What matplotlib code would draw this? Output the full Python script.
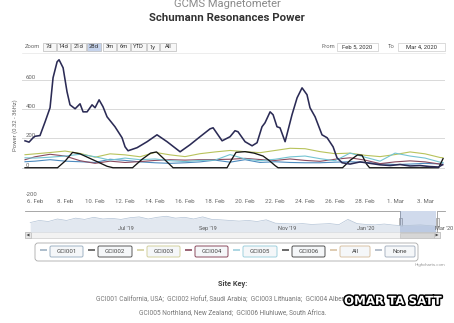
import numpy as np
import pandas as pd
import matplotlib
matplotlib.use("Agg")
import matplotlib.pyplot as plt
import matplotlib.dates as mdates
from matplotlib.patches import Rectangle, FancyBboxPatch, Polygon
import matplotlib.patheffects as pe

plt.rcParams["font.family"] = ["Roboto", "DejaVu Sans"]

# ---- data ----
start = pd.Timestamp("2020-02-05")

series_names = ["GCI001", "GCI002", "GCI003", "GCI004", "GCI005", "GCI006"]
series_colors = ["#4d8bbf", "#2b2b55", "#b8c35c", "#8a4a5e", "#74c4d2", "#151515"]

# GCI002 (the big one), days after Feb 5
gci002_days = [0.33, 0.6, 0.87, 1.0, 1.33, 1.67, 2.0, 2.2, 2.47, 2.6, 2.87, 3.13, 3.33, 3.67,
               4.0, 4.2, 4.47, 4.8, 5.0, 5.27, 5.53, 5.8, 6.33, 6.8, 7.0, 7.2, 7.8, 8.47,
               9.13, 9.8, 10.67, 11.33, 12.0, 12.67, 12.87, 13.47, 14.0, 14.33, 14.53, 15.0,
               15.47, 15.8, 16.13, 16.33, 16.67, 16.87, 17.13, 17.33, 17.67, 18.13, 18.47,
               18.8, 19.13, 19.33, 19.67, 20.13, 20.47, 20.87, 21.13, 21.47, 22.0, 22.67,
               23.33, 24.0, 24.67, 25.33, 26.0, 26.67, 27.33, 27.9, 28.15]
gci002_vals = [184, 175, 205, 215, 220, 314, 410, 615, 724, 738, 683, 520, 430, 403,
               437, 382, 382, 430, 410, 464, 417, 348, 280, 205, 143, 116, 137, 178,
               225, 178, 109, 157, 212, 266, 273, 184, 212, 253, 246, 178,
               150, 171, 280, 307, 382, 362, 280, 273, 178, 362, 478,
               546, 499, 410, 348, 225, 205, 143, 68, 34, 25, 40,
               30, 20, 15, 22, 12, 15, 8, 5, 20]

# the smaller stations, one reading per day
daily_days = [0.33, 1, 2, 3, 4, 5, 6, 7, 8, 9, 10, 11, 12, 13, 14, 15, 16, 17, 18, 19,
              20, 21, 22, 23, 24, 25, 26, 27, 28, 28.2]
gci001_vals = [41, 45, 55, 45, 41, 36, 58, 50, 40, 34, 30, 34, 40, 52, 38, 55, 36, 41, 36, 34,
               34, 38, 41, 36, 28, 22, 25, 30, 26, 25]
gci003_vals = [89, 95, 104, 114, 98, 72, 95, 88, 75, 105, 88, 76, 96, 108, 118, 110, 103, 118,
               133, 130, 110, 96, 100, 85, 76, 90, 108, 95, 70, 68]
gci004_vals = [55, 75, 92, 80, 48, 30, 45, 36, 42, 50, 55, 52, 55, 56, 58, 64, 56, 50, 60, 50,
               44, 58, 68, 52, 28, 40, 47, 40, 25, 20]
gci005_vals = [68, 66, 72, 80, 92, 75, 52, 66, 55, 60, 48, 42, 50, 52, 90, 60, 48, 58, 74, 80,
               62, 48, 100, 72, 45, 100, 80, 66, 38, 35]

# GCI006 sits at zero with humps
gci006_days = [0.33, 2.5, 3.0, 3.5, 4.0, 4.7, 5.3, 5.8, 6.2, 7.5, 8.1, 8.7, 9.1, 9.6, 10.2,
               13.8, 14.1, 14.4, 15.0, 15.6, 16.2, 16.6, 17.0, 17.2, 21.5, 22.0, 22.5, 22.8,
               23.1, 23.3, 27.9, 28.2]
gci006_vals = [0, 0, 45, 105, 95, 62, 34, 10, 0, 0, 55, 100, 108, 60, 0,
               0, 55, 105, 110, 100, 80, 50, 15, 0, 0, 50, 88, 85,
               25, 0, 0, 62]

y_ticks = [-200, 0, 200, 400, 600]
x_tick_dates = ["2020-02-06", "2020-02-08", "2020-02-10", "2020-02-12", "2020-02-14",
                "2020-02-16", "2020-02-18", "2020-02-20", "2020-02-22", "2020-02-24",
                "2020-02-26", "2020-02-28", "2020-03-01", "2020-03-03"]
x_tick_labels = ["6. Feb", "8. Feb", "10. Feb", "12. Feb", "14. Feb", "16. Feb", "18. Feb",
                 "20. Feb", "22. Feb", "24. Feb", "26. Feb", "28. Feb", "1. Mar", "3. Mar"]

# navigator overview (weekly, relative height)
nav_dates = ["2019-04-26", "2019-05-03", "2019-05-10", "2019-05-17", "2019-05-24", "2019-05-31",
             "2019-06-07", "2019-06-14", "2019-06-21", "2019-06-28", "2019-07-05", "2019-07-12",
             "2019-07-19", "2019-07-26", "2019-08-02", "2019-08-09", "2019-08-16", "2019-08-23",
             "2019-08-30", "2019-09-06", "2019-09-13", "2019-09-20", "2019-09-27", "2019-10-04",
             "2019-10-11", "2019-10-18", "2019-10-25", "2019-11-01", "2019-11-08", "2019-11-15",
             "2019-11-22", "2019-11-29", "2019-12-06", "2019-12-13", "2019-12-20", "2019-12-27",
             "2020-01-03", "2020-01-10", "2020-01-17", "2020-01-24", "2020-01-31", "2020-02-07",
             "2020-02-14", "2020-02-21", "2020-02-28", "2020-03-04"]
nav_vals = [0.45, 0.55, 0.5, 0.62, 0.55, 0.66, 0.6, 0.7, 0.62, 0.65, 0.6, 0.68,
            0.72, 0.62, 0.7, 0.75, 0.66, 0.7, 0.62, 0.72, 0.6, 0.58, 0.55, 0.52,
            0.55, 0.5, 0.58, 0.42, 0.4, 0.38, 0.4, 0.36, 0.38, 0.4, 0.35, 0.6,
            0.4, 0.36, 0.34, 0.38, 0.33, 0.3, 0.32, 0.34, 0.3, 0.28]
nav_tick_dates = ["2019-07-01", "2019-09-01", "2019-11-01", "2020-01-01", "2020-03-01"]
nav_tick_labels = ["Jul '19", "Sep '19", "Nov '19", "Jan '20", "Mar '20"]

zoom_buttons = ["7d", "14d", "21d", "28d", "3m", "6m", "YTD", "1y", "All"]
legend_labels = series_names + ["All", "None"]
site_key_1 = "GCI001 California, USA;  GCI002 Hofuf, Saudi Arabia;  GCI003 Lithuania;  GCI004 Alberta, Canada;"
site_key_2 = "GCI005 Northland, New Zealand;  GCI006 Hluhluwe, South Africa."

# ---- layout ----
W, H = 454, 323
fig = plt.figure(figsize=(W / 100, H / 100), dpi=100)


def box(l, t, r, b):
    return [l / W, 1 - b / H, (r - l) / W, (b - t) / H]


bg = fig.add_axes([0, 0, 1, 1])
bg.set_xlim(0, W)
bg.set_ylim(H, 0)
bg.axis("off")

base = mdates.date2num(start)

# main chart
ax = fig.add_axes(box(22, 58, 445, 197))
ax.patch.set_alpha(0)
for s in ax.spines.values():
    s.set_visible(False)
ax.set_xlim(base + 0.13, base + 28.33)
ax.set_ylim(-200, 750)
for v in y_ticks[1:]:
    ax.axhline(v, color="#d9d9d9", lw=0.7, zorder=0)

lows = [gci001_vals, None, gci003_vals, gci004_vals, gci005_vals, None]
for i, vals in enumerate(lows):
    if vals is not None:
        ax.plot(base + np.array(daily_days), vals, color=series_colors[i], lw=0.8)
ax.plot(base + np.array(gci006_days), gci006_vals, color=series_colors[5], lw=0.95)
ax.plot(base + np.array(gci002_days), gci002_vals, color=series_colors[1], lw=1.15)

ax.set_yticks(y_ticks)
ax.set_yticklabels([str(v) for v in y_ticks])
ax.tick_params(axis="y", length=0, pad=-2.5, labelsize=4.3, labelcolor="#666666")
for lbl in ax.get_yticklabels():
    lbl.set_ha("left")
    lbl.set_va("bottom")
ax.set_xticks(mdates.date2num(pd.to_datetime(x_tick_dates)))
ax.set_xticklabels(x_tick_labels)
ax.tick_params(axis="x", length=0, pad=1.5, labelsize=4.3, labelcolor="#666666")

bg.text(15, 125, "Power (0.32 - 36Hz)", rotation=90, ha="center", va="center",
        fontsize=4.2, color="#666666")

# titles
bg.text(227, 4, "GCMS Magnetometer", ha="center", va="center", fontsize=8, color="#8a8a8a")
bg.text(227, 18, "Schumann Resonances Power", ha="center", va="center", fontsize=8.2,
        fontweight="bold", color="#333333")

# range selector
ry = 47
bg.text(25, ry, "Zoom", ha="left", va="center", fontsize=4.2, color="#666666")
btn_l = [43, 57, 71, 87, 103, 117, 131, 147, 160]
btn_r = [56, 70, 86, 101, 116, 130, 146, 159, 176]
for lab, l, r in zip(zoom_buttons, btn_l, btn_r):
    face = "#c5d3ec" if lab == "28d" else "#f7f7f7"
    bg.add_patch(Rectangle((l, ry - 4), r - l, 8, facecolor=face, edgecolor="#bbbbbb", lw=0.5))
    bg.text((l + r) / 2, ry, lab, ha="center", va="center", fontsize=4.2, color="#333333")
bg.text(321, ry, "From", ha="left", va="center", fontsize=4.2, color="#666666")
bg.add_patch(Rectangle((337, ry - 4), 41, 8, facecolor="white", edgecolor="#cccccc", lw=0.5))
bg.text(357.5, ry, "Feb 5, 2020", ha="center", va="center", fontsize=4.2, color="#333333")
bg.text(388, ry, "To", ha="left", va="center", fontsize=4.2, color="#666666")
bg.add_patch(Rectangle((398, ry - 4), 47, 8, facecolor="white", edgecolor="#cccccc", lw=0.5))
bg.text(421.5, ry, "Mar 4, 2020", ha="center", va="center", fontsize=4.2, color="#333333")
bg.plot([22, 445], [ry + 6, ry + 6], color="#e6e6e6", lw=0.5)

# navigator
nav = fig.add_axes(box(25, 211, 440, 232))
nav.axis("off")
nav_x = mdates.date2num(pd.to_datetime(nav_dates))
nav.set_xlim(mdates.date2num(pd.Timestamp("2019-04-22")), mdates.date2num(pd.Timestamp("2020-03-07")))
nav.set_ylim(0, 1)
nav.fill_between(nav_x, nav_vals, color="#e2e8f0", lw=0)
nav.plot(nav_x, nav_vals, color="#b3c3d6", lw=0.5)
for d, lab in zip(mdates.date2num(pd.to_datetime(nav_tick_dates)), nav_tick_labels):
    nav.text(d + 2, 0.18, lab, ha="left", va="center", fontsize=4, color="#555555")
nav.axvspan(base, base + 28, color=(102 / 255, 133 / 255, 194 / 255), alpha=0.3, lw=0)

bg.plot([25, 400, 400, 437, 437, 445], [211, 211, 232, 232, 211, 211], color="#999999", lw=0.6)
for hx in (400, 437):
    bg.add_patch(Rectangle((hx - 1.5, 218), 3, 8, facecolor="#f2f2f2", edgecolor="#999999", lw=0.5))

# scrollbar
bg.add_patch(Rectangle((25, 232), 415, 6, facecolor="#f2f2f2", edgecolor="#cccccc", lw=0.5))
bg.add_patch(Rectangle((400, 232.5), 34, 5, facecolor="#d6d6d6", edgecolor="#bbbbbb", lw=0.4))
for bx, tri in ((25, [(29.5, 233.5), (29.5, 236.5), (26.5, 235)]),
                (434, [(435.5, 233.5), (435.5, 236.5), (438.5, 235)])):
    bg.add_patch(Rectangle((bx, 232), 6, 6, facecolor="#e6e6e6", edgecolor="#bbbbbb", lw=0.5))
    bg.add_patch(Polygon(tri, closed=True, facecolor="#444444", lw=0))

# legend with buttons
bg.add_patch(FancyBboxPatch((35, 243), 383, 18, boxstyle="round,pad=0,rounding_size=3",
                            facecolor="white", edgecolor="#aaaaaa", lw=0.6))
leg_colors = ["#9fb3c4", "#5a5a5a", "#d3d09e", "#8a4a5e", "#9fd0de", "#505050", "#d9c3a5", "#a9b4c2"]
line_l = [40, 88, 137, 185, 233, 282, 330, 375]
box_l = [50, 98, 147, 195, 243, 292, 340, 385]
box_r = [83, 132, 180, 228, 277, 325, 370, 415]
for lab, c, ll, bl, br in zip(legend_labels, leg_colors, line_l, box_l, box_r):
    bg.plot([ll, ll + 7], [250, 250], color=c, lw=1.2, solid_capstyle="butt")
    bg.add_patch(FancyBboxPatch((bl, 246), br - bl, 11, boxstyle="round,pad=0,rounding_size=1.5",
                                facecolor="#f5f7f9", edgecolor=c, lw=0.7))
    bg.text((bl + br) / 2, 251.5, lab, ha="center", va="center", fontsize=4.4, color="#444444")
bg.text(445, 265, "Highcharts.com", ha="right", va="center", fontsize=3.2, color="#999999")

# site key
bg.text(233, 284, "Site Key:", ha="center", va="center", fontsize=5.3, fontweight="bold",
        color="#444444")
bg.text(236, 299, site_key_1, ha="center", va="center", fontsize=4.7, color="#777777")
bg.text(233, 313, site_key_2, ha="center", va="center", fontsize=4.7, color="#777777")

# watermark (sits over the end of the first site-key line, as in the original)
bg.text(393, 301, "OMAR TA SATT", ha="center", va="center", fontsize=8.5, fontweight="heavy",
        family="DejaVu Sans", color="white",
        path_effects=[pe.Stroke(linewidth=2.2, foreground="black"), pe.Normal()], zorder=10)

fig.savefig("out.png", dpi=100)
